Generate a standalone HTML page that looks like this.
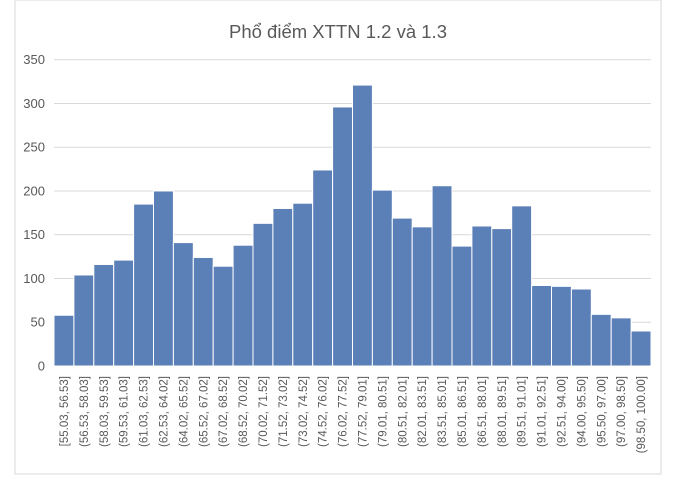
<!DOCTYPE html>
<html><head><meta charset="utf-8"><style>
body{margin:0;background:#fff;font-family:"Liberation Sans",sans-serif}
</style></head><body>
<svg id="c" width="680" height="482" xmlns="http://www.w3.org/2000/svg">
<rect x="15" y="0" width="646" height="474" fill="#fff" stroke="#d9d9d9"/>
<text x="338" y="38" text-anchor="middle" font-size="18.5" fill="#595959" font-family="Liberation Sans, DejaVu Sans, sans-serif">Phổ điểm XTTN 1.2 và 1.3</text>
<g id="grid"></g><g id="bars"></g><g id="yl"></g><g id="xl"></g>
</svg>
<script>
const categories=["[55.03, 56.53]","(56.53, 58.03]","(58.03, 59.53]","(59.53, 61.03]","(61.03, 62.53]","(62.53, 64.02]","(64.02, 65.52]","(65.52, 67.02]","(67.02, 68.52]","(68.52, 70.02]","(70.02, 71.52]","(71.52, 73.02]","(73.02, 74.52]","(74.52, 76.02]","(76.02, 77.52]","(77.52, 79.01]","(79.01, 80.51]","(80.51, 82.01]","(82.01, 83.51]","(83.51, 85.01]","(85.01, 86.51]","(86.51, 88.01]","(88.01, 89.51]","(89.51, 91.01]","(91.01, 92.51]","(92.51, 94.00]","(94.00, 95.50]","(95.50, 97.00]","(97.00, 98.50]","(98.50, 100.00]"];
const counts=[58,104,116,121,185,200,141,124,114,138,163,180,186,224,296,321,201,169,159,206,137,160,157,183,92,91,88,59,55,40];
const yTicks=[0,50,100,150,200,250,300,350];
const NS="http://www.w3.org/2000/svg";
const X0=54,X1=651,Y0=366,Y1=59.7,YMAX=350;
const y=v=>Y0-(v/YMAX)*(Y0-Y1);
const bw=(X1-X0)/categories.length;
const x=i=>X0+i*bw;
function mk(t,a,p){const e=document.createElementNS(NS,t);for(const k in a)e.setAttribute(k,a[k]);document.getElementById(p).appendChild(e);return e;}
yTicks.forEach(v=>{
 const l=mk('line',{x1:X0,x2:X1,y1:y(v),y2:y(v),stroke:'#d9d9d9','stroke-width':1},'grid');
 
 
 const t=mk('text',{x:45,y:y(v)+4.5,'text-anchor':'end','font-size':13,fill:'#595959'},'yl');
 t.textContent=v;
 
 
});
counts.forEach((v,i)=>{
 const r=mk('rect',{x:x(i),y:y(v),width:bw,height:Y0-y(v),fill:'#5b7fb7',stroke:'#fff','stroke-width':1},'bars');
 
 
 const cx=x(i)+bw/2+4;
 const t=mk('text',{x:0,y:0,'text-anchor':'end','font-size':11.5,fill:'#595959',transform:`translate(${cx},376) rotate(-90)`},'xl');
 t.textContent=categories[i];
 
 
});
</script>
</body></html>
